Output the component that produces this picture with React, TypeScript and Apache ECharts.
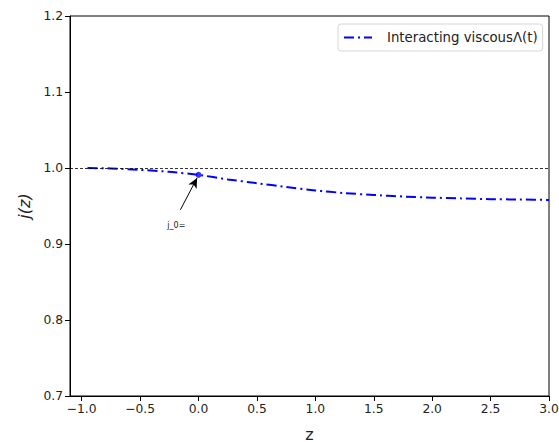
import React, { useEffect, useRef } from "react";
import * as echarts from "echarts";

const zValues = [-0.95, -0.75, -0.5, -0.25, 0, 0.25, 0.5, 0.75, 1.0, 1.25, 1.5, 1.75, 2.0, 2.25, 2.5, 2.75, 3.0];
const jValues = [1.0, 0.9995, 0.9975, 0.995, 0.991, 0.985, 0.98, 0.975, 0.9705, 0.967, 0.9645, 0.9625, 0.961, 0.96, 0.959, 0.9585, 0.958];
const xTicks = [-1.0, -0.5, 0.0, 0.5, 1.0, 1.5, 2.0, 2.5, 3.0];
const yTicks = [0.7, 0.8, 0.9, 1.0, 1.1, 1.2];
const markerPoint = [0, 0.991];
const arrowTail = [-0.155, 0.945];
const arrowHead = [-0.012, 0.987];
const annotationPos = [-0.19, 0.925];
const annotationText = "j_0=";
const seriesName = "Interacting viscousΛ(t)";

const FONT = "DejaVu Sans";

export default function App() {
  const ref = useRef<HTMLDivElement>(null);
  useEffect(() => {
    if (!ref.current) return;
    const chart = echarts.init(ref.current, null, { renderer: "svg" });
    const axisCommon = {
      axisLine: { show: true, onZero: false, lineStyle: { color: "#000", width: 1 } },
      axisTick: { show: true, inside: false, length: 5, lineStyle: { color: "#000", width: 1 } },
      splitLine: { show: false },
    };
    chart.setOption({
      animation: false,
      backgroundColor: "#fff",
      textStyle: { fontFamily: FONT },
      grid: {
        left: 70,
        right: 10,
        top: 16,
        bottom: 46,
        show: true,
        borderColor: "#000",
        borderWidth: 1,
        containLabel: false,
        outerBoundsMode: "none",
      },
      legend: {
        show: true,
        data: [seriesName],
        left: 338,
        top: 24,
        itemWidth: 28,
        itemHeight: 10,
        padding: [7, 5, 7, 5],
        borderColor: "#d6d6d6",
        borderWidth: 1,
        borderRadius: 3,
        backgroundColor: "rgba(255,255,255,0.8)",
        itemStyle: { color: "transparent", borderWidth: 0, opacity: 0 },
        textStyle: { fontFamily: FONT, fontSize: 13.3, color: "#222", padding: [0, 0, 0, 10] },
      },
      xAxis: {
        type: "value",
        min: -1.1,
        max: 3.0,
        name: "z",
        nameLocation: "middle",
        nameGap: 30,
        nameTextStyle: { fontFamily: FONT, fontSize: 16, color: "#222" },
        ...axisCommon,
        axisTick: { ...axisCommon.axisTick, customValues: xTicks },
        axisLabel: {
          customValues: xTicks,
          fontFamily: FONT,
          fontSize: 12.3,
          color: "#222",
          margin: 7,
          formatter: (v: number) => v.toFixed(1).replace("-", "\u2212"),
        },
      },
      yAxis: {
        type: "value",
        min: 0.7,
        max: 1.2,
        name: "j(z)",
        nameLocation: "middle",
        nameGap: 35,
        nameRotate: 90,
        nameTextStyle: { fontFamily: FONT, fontSize: 16, fontStyle: "italic", color: "#222" },
        ...axisCommon,
        axisTick: { ...axisCommon.axisTick, customValues: yTicks },
        axisLabel: {
          customValues: yTicks,
          fontFamily: FONT,
          fontSize: 12.3,
          color: "#222",
          margin: 7,
          formatter: (v: number) => v.toFixed(1),
        },
      },
      series: [
        {
          name: seriesName,
          type: "line",
          data: zValues.map((z, i) => [z, jValues[i]]),
          showSymbol: false,
          symbol: "none",
          smooth: 0.2,
          z: 3,
          lineStyle: { color: "#0000ff", width: 2, type: [10, 4, 2, 4] },
          itemStyle: { color: "#0000ff" },
          markLine: {
            silent: true,
            symbol: ["none", "none"],
            label: { show: false },
            lineStyle: { color: "#000", width: 0.8, type: [3, 2] },
            data: [{ yAxis: 1.0 }],
          },
        },
        {
          name: "marker",
          type: "scatter",
          data: [markerPoint],
          symbol: "circle",
          symbolSize: 6,
          itemStyle: { color: "#0000ff" },
          z: 4,
          markLine: {
            silent: true,
            symbol: ["none", "arrow"],
            symbolSize: [7, 10],
            label: { show: false },
            lineStyle: { color: "#000", width: 1, type: "solid" },
            data: [[{ coord: arrowTail }, { coord: arrowHead }]],
          },
          markPoint: {
            silent: true,
            symbol: "circle",
            symbolSize: 0,
            label: {
              show: true,
              position: "inside",
              formatter: annotationText,
              fontFamily: FONT,
              fontSize: 8,
              color: "#222",
            },
            data: [{ coord: annotationPos }],
          },
        },
      ],
    });
    return () => chart.dispose();
  }, []);
  return <div ref={ref} style={{ position: "fixed", left: 0, top: 0, width: 559, height: 442 }} />;
}
